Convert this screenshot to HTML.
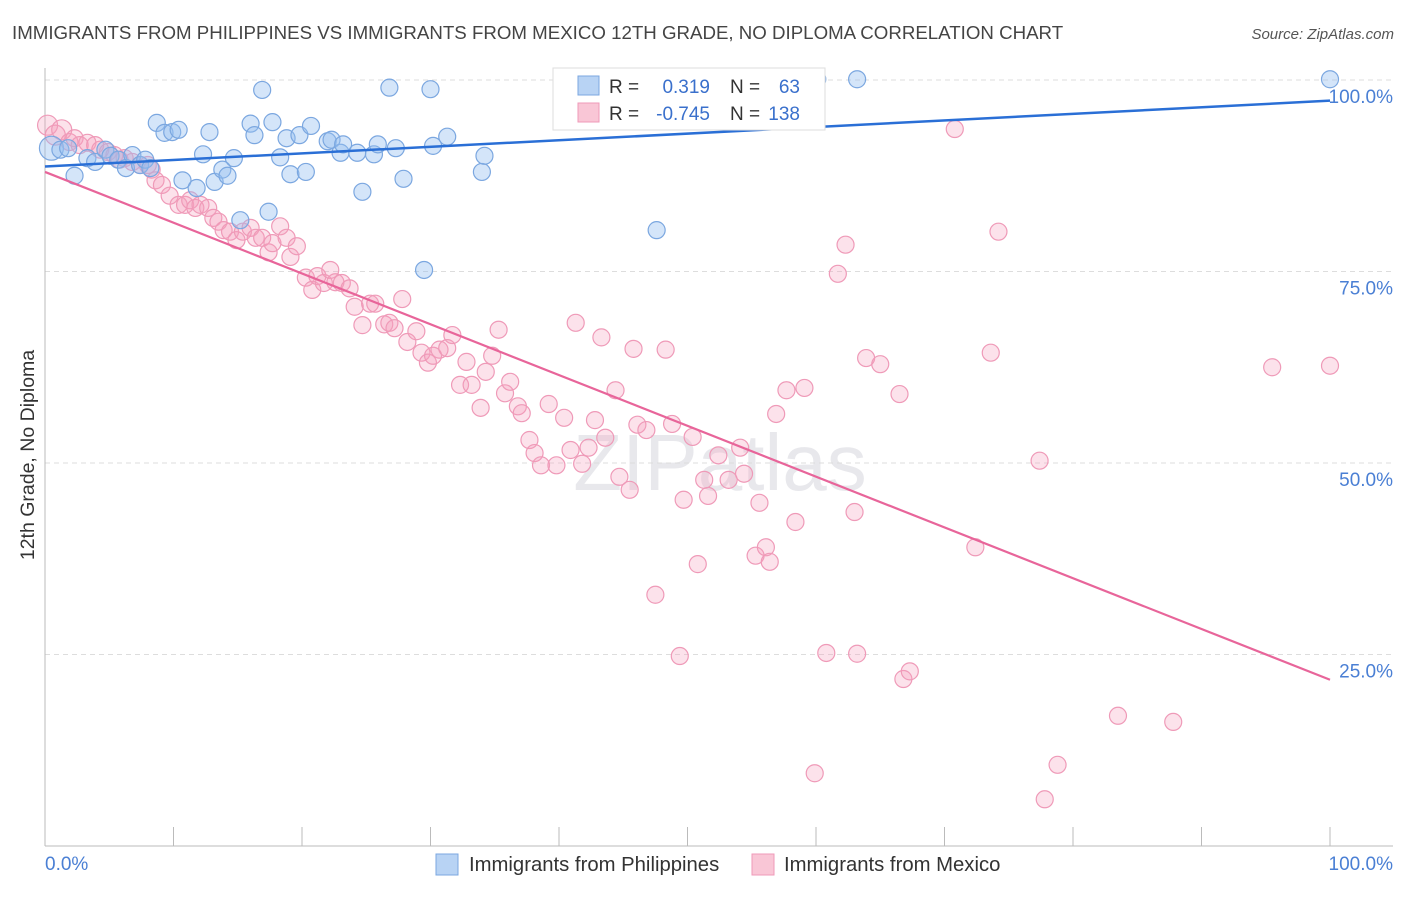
<!DOCTYPE html>
<html><head><meta charset="utf-8"><style>
body{margin:0;background:#fff;font-family:"Liberation Sans",sans-serif}
svg text{font-family:"Liberation Sans",sans-serif}
</style></head><body>
<svg id="chart" width="1406" height="892" viewBox="0 0 1406 892" xmlns="http://www.w3.org/2000/svg">
<text x="12" y="39" font-size="18.7" fill="#444">IMMIGRANTS FROM PHILIPPINES VS IMMIGRANTS FROM MEXICO 12TH GRADE, NO DIPLOMA CORRELATION CHART</text>
<text x="1394" y="39" font-size="15" fill="#555" text-anchor="end" font-style="italic">Source: ZipAtlas.com</text>
<text x="720" y="490" font-size="80" fill="#e8e8ec" text-anchor="middle" font-family="Liberation Serif">ZIPatlas</text>
<g id="grid"></g><g id="axes"></g><g id="pts"></g><g id="lines"></g>
<text transform="translate(34,455) rotate(-90)" font-size="19.5" fill="#333" text-anchor="middle">12th Grade, No Diploma</text>
<text x="45" y="870" font-size="19" fill="#4a7fd4">0.0%</text>
<text x="1393" y="870" font-size="19" fill="#4a7fd4" text-anchor="end">100.0%</text>
<g>
<rect x="553" y="68" width="272" height="62" fill="#fff" stroke="#ddd"/>
<rect x="578" y="76" width="21" height="19" fill="#b8d3f4" stroke="#7ba7e0"/>
<rect x="578" y="103" width="21" height="19" fill="#f9c6d6" stroke="#ef9ab8"/>
<text x="609" y="93" font-size="19" fill="#333">R =</text><text x="710" y="93" font-size="19" fill="#3a70cc" text-anchor="end">0.319</text>
<text x="730" y="93" font-size="19" fill="#333">N =</text><text x="800" y="93" font-size="19" fill="#3a70cc" text-anchor="end">63</text>
<text x="609" y="120" font-size="19" fill="#333">R =</text><text x="710" y="120" font-size="19" fill="#3a70cc" text-anchor="end">-0.745</text>
<text x="730" y="120" font-size="19" fill="#333">N =</text><text x="800" y="120" font-size="19" fill="#3a70cc" text-anchor="end">138</text>
</g>
<g><rect x="436" y="854" width="22" height="21" fill="#b8d3f4" stroke="#7ba7e0"/><text x="469" y="871" font-size="20.3" fill="#333">Immigrants from Philippines</text></g>
<g><rect x="752" y="854" width="22" height="21" fill="#f9c6d6" stroke="#ef9ab8"/><text x="784" y="871" font-size="20.3" fill="#333">Immigrants from Mexico</text></g>
</svg>
<script>
const yTicks=[25,50,75,100];
const xTicks=[0,10,20,30,40,50,60,70,80,90,100];
const phX=[0.5,1.2,1.8,2.3,3.3,3.9,4.7,5.1,5.7,6.3,6.8,7.4,7.8,8.2,8.7,9.3,9.9,10.4,10.7,11.8,12.3,12.8,13.2,13.8,14.2,14.7,15.2,16.0,16.3,16.9,17.4,17.7,18.3,18.8,19.1,19.8,20.3,20.7,22.0,22.3,23.0,23.2,24.3,24.7,25.6,25.9,26.8,27.3,27.9,29.5,30.0,30.2,31.3,34.0,34.2,47.6,60.1,63.2,100];
const phY=[91.1,90.9,91.1,87.5,89.8,89.3,90.9,90.1,89.6,88.5,90.2,88.9,89.6,88.5,94.4,93.1,93.2,93.5,86.9,85.9,90.3,93.2,86.7,88.3,87.5,89.8,81.7,94.3,92.8,98.7,82.8,94.5,89.9,92.4,87.7,92.8,88.0,94.0,92.0,92.2,90.5,91.6,90.5,85.4,90.3,91.6,99.0,91.1,87.1,75.2,98.8,91.4,92.6,88.0,90.1,80.4,100.1,100.1,100.1];
const mxX=[0.2,0.8,1.3,1.9,2.3,2.7,3.3,3.9,4.3,4.9,5.4,5.8,6.2,6.8,7.4,8.0,8.3,8.6,9.1,9.7,10.4,10.9,11.3,11.7,12.1,12.7,13.1,13.5,13.9,14.4,14.9,15.4,16.0,16.4,16.9,17.4,17.7,18.3,18.8,19.1,19.6,20.3,20.8,21.2,21.7,22.2,22.6,23.1,23.7,24.1,24.7,25.3,25.7,26.4,26.8,27.2,27.8,28.2,28.9,29.3,29.8,30.2,30.7,31.3,31.7,32.3,32.8,33.2,33.9,34.3,34.8,35.3,35.8,36.2,36.8,37.1,37.7,38.1,38.6,39.2,39.8,40.4,40.9,41.3,41.8,42.3,42.8,43.3,43.6,44.4,44.7,45.5,45.8,46.1,46.8,47.5,48.3,48.8,49.4,49.7,50.4,50.8,51.3,51.6,52.4,53.2,54.1,54.4,54.6,55.3,55.6,56.1,56.4,56.9,57.7,58.4,59.1,59.9,60.8,61.7,62.3,63.0,63.2,63.9,65.0,66.5,66.8,67.3,70.8,72.4,73.6,74.2,77.4,77.8,78.8,83.5,87.8,95.5,100];
const mxY=[94.1,92.8,93.5,91.9,92.4,91.5,91.8,91.5,90.9,90.6,90.2,89.6,89.8,89.3,88.9,88.9,88.3,86.9,86.3,84.9,83.7,83.7,84.3,83.3,83.7,83.3,82.0,81.5,80.4,80.2,79.1,80.2,80.7,79.4,79.4,77.5,78.7,80.9,79.4,76.9,78.3,74.2,72.6,74.4,73.5,75.2,73.6,73.5,72.8,70.4,68.0,70.8,70.8,68.1,68.3,67.6,71.4,65.8,67.2,64.4,63.1,64.0,64.8,65.0,66.7,60.2,63.2,60.2,57.2,61.9,64.0,67.4,59.1,60.6,57.4,56.5,53.0,51.3,49.7,57.7,49.7,55.9,51.7,68.3,49.9,52.0,55.6,66.4,53.3,59.5,48.2,46.5,64.9,55.0,54.3,32.8,64.8,55.1,24.8,45.2,53.4,36.8,47.8,45.7,51.0,47.8,52.0,48.6,100.0,37.9,44.8,39.0,37.1,56.4,59.5,42.3,59.8,9.5,25.2,74.7,78.5,43.6,25.1,63.7,62.9,59.0,21.8,22.8,93.6,39.0,64.4,80.2,50.3,6.1,10.6,17.0,16.2,62.5,62.7];
const phLine=[88.7,97.3];
const mxLine=[88.0,21.7];
const X=v=>45+v*12.85, Y=v=>846-v*7.66;
const NS='http://www.w3.org/2000/svg';
function mk(t,p,a){const e=document.createElementNS(NS,t);for(const k in a)e.setAttribute(k,a[k]);p.appendChild(e);return e;}
const grid=document.getElementById('grid'),axes=document.getElementById('axes'),pts=document.getElementById('pts'),lines=document.getElementById('lines');
yTicks.forEach(t=>{
 const l=mk('line',grid,{x1:45,x2:1393,y1:Y(t),y2:Y(t),stroke:'#ddd','stroke-dasharray':'5,4'});
 
 
 const tx=mk('text',grid,{x:1393,y:Y(t)+23,'font-size':19,fill:'#4a7fd4','text-anchor':'end'});
 tx.textContent=t.toFixed(1)+'%';
 
 
});
const xa=mk('line',axes,{x1:45,x2:1393,y1:846,y2:846,stroke:'#bbb'});


const ya=mk('line',axes,{x1:45,x2:45,y1:68,y2:846,stroke:'#bbb'});


xTicks.forEach(t=>{
 const l=mk('line',axes,{x1:X(t),x2:X(t),y1:827,y2:846,stroke:'#bbb'});
 
 
});
mxX.forEach((x,i)=>{
 const c=mk('circle',pts,{cx:X(x),cy:Y(mxY[i]),r:i<3?10:8.5,fill:'rgba(244,160,190,0.3)',stroke:'#ef9ab8','stroke-width':1.2});
 
 
});
phX.forEach((x,i)=>{
 const c=mk('circle',pts,{cx:X(x),cy:Y(phY[i]),r:i<1?12:8.5,fill:'rgba(147,190,240,0.4)',stroke:'#7ba7e0','stroke-width':1.2});
 
 
});
const l1=mk('line',lines,{x1:X(0),y1:Y(phLine[0]),x2:X(100),y2:Y(phLine[1]),stroke:'#2a6fd6','stroke-width':2.5});


const l2=mk('line',lines,{x1:X(0),y1:Y(mxLine[0]),x2:X(100),y2:Y(mxLine[1]),stroke:'#e8659a','stroke-width':2.2});


</script>
</body></html>
